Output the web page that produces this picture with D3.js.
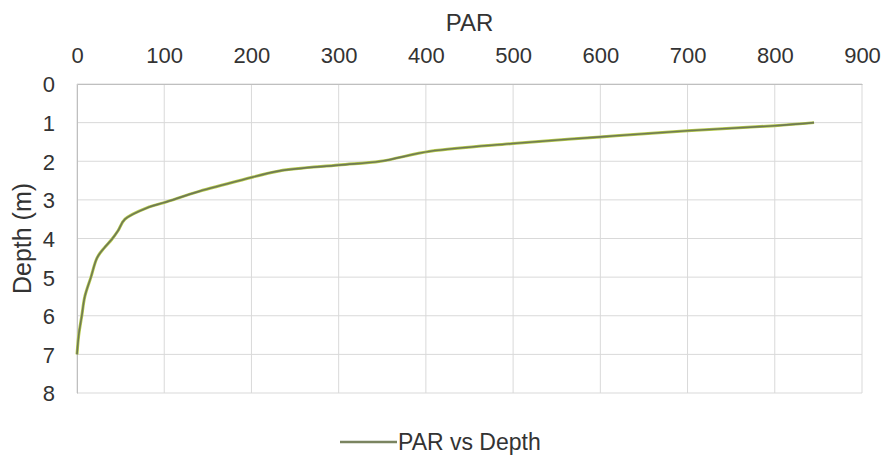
<!DOCTYPE html>
<html>
<head>
<meta charset="utf-8">
<script src="https://cdn.jsdelivr.net/npm/d3@7"></script>
<style>
  body { margin: 0; background: #fff; }
  text { font-family: "Liberation Sans", Arial, sans-serif; fill: #333; }
</style>
</head>
<body>
<script>
// PAR 随深度变化的读数
var par   = [845, 800, 700, 600, 500, 405, 348, 300, 232, 190, 140, 100, 82, 55, 47, 40, 31, 23, 16, 9, 5.5, 2, 0];
var depth = [1.0, 1.08, 1.21, 1.37, 1.54, 1.74, 2.0, 2.1, 2.25, 2.48, 2.78, 3.07, 3.19, 3.5, 3.8, 4.02, 4.25, 4.5, 5.0, 5.5, 6.0, 6.5, 7.0];
var xTicks = [0, 100, 200, 300, 400, 500, 600, 700, 800, 900];
var yTicks = [0, 1, 2, 3, 4, 5, 6, 7, 8];

var W = 887, H = 461;
// 绘图区边界 (不能用 top，会和 window.top 冲突)
var pL = 77, pR = 862, pT = 84, pB = 393;

var x = d3.scaleLinear().domain([0, 900]).range([pL, pR]);
var y = d3.scaleLinear().domain([0, 8]).range([pT, pB]);

var svg = d3.select("body").append("svg")
    .attr("width", W)
    .attr("height", H);

// 网格线
svg.append("g").selectAll("line").data(xTicks).enter().append("line")
    .attr("x1", function (d) { return x(d); }).attr("x2", function (d) { return x(d); })
    .attr("y1", pT).attr("y2", pB)
    .attr("stroke", "#d9d9d9").attr("stroke-width", 1);
svg.append("g").selectAll("line").data(yTicks).enter().append("line")
    .attr("x1", pL).attr("x2", pR)
    .attr("y1", function (d) { return y(d); }).attr("y2", function (d) { return y(d); })
    .attr("stroke", "#d9d9d9").attr("stroke-width", 1);

// 坐标轴 (只要刻度文字)
var xAxis = d3.axisTop(x).tickValues(xTicks).tickSize(0).tickPadding(21);
var yAxis = d3.axisLeft(y).tickValues(yTicks).tickSize(0).tickPadding(22);

var gx = svg.append("g").attr("transform", "translate(0," + pT + ")").call(xAxis);
var gy = svg.append("g").attr("transform", "translate(" + pL + ",0)").call(yAxis);
[gx, gy].forEach(function (g) {
    g.select(".domain").attr("stroke", "#bfbfbf");
    g.selectAll("text").style("font-size", "22px").attr("fill", "#333")
        .style("font-family", "'Liberation Sans', Arial, sans-serif");
});
gy.selectAll("text").attr("dy", "0.36em");

// 标题
svg.append("text")
    .attr("x", (pL + pR) / 2).attr("y", 31)
    .attr("text-anchor", "middle")
    .style("font-size", "24px")
    .text("PAR");
svg.append("text")
    .attr("transform", "translate(31," + (pT + pB) / 2 + ") rotate(-90)")
    .attr("text-anchor", "middle")
    .style("font-size", "25px")
    .text("Depth (m)");

// 曲线
var pts = par.map(function (p, i) { return [p, depth[i]]; });
var line = d3.line()
    .x(function (d) { return x(d[0]); })
    .y(function (d) { return y(d[1]); })
    .curve(d3.curveCatmullRom.alpha(0.5));
svg.append("path")
    .datum(pts)
    .attr("fill", "none")
    .attr("stroke", "#b5c94a")
    .attr("stroke-width", 3)
    .attr("d", line);
svg.append("path")
    .datum(pts)
    .attr("fill", "none")
    .attr("stroke", "#6f7a55")
    .attr("stroke-width", 1.6)
    .attr("d", line);

// 图例
svg.append("line")
    .attr("x1", 340).attr("x2", 397).attr("y1", 442).attr("y2", 442)
    .attr("stroke", "#7a8460").attr("stroke-width", 2.5);
svg.append("text")
    .attr("x", 398).attr("y", 450)
    .style("font-size", "23px")
    .text("PAR vs Depth");
</script>
</body>
</html>
